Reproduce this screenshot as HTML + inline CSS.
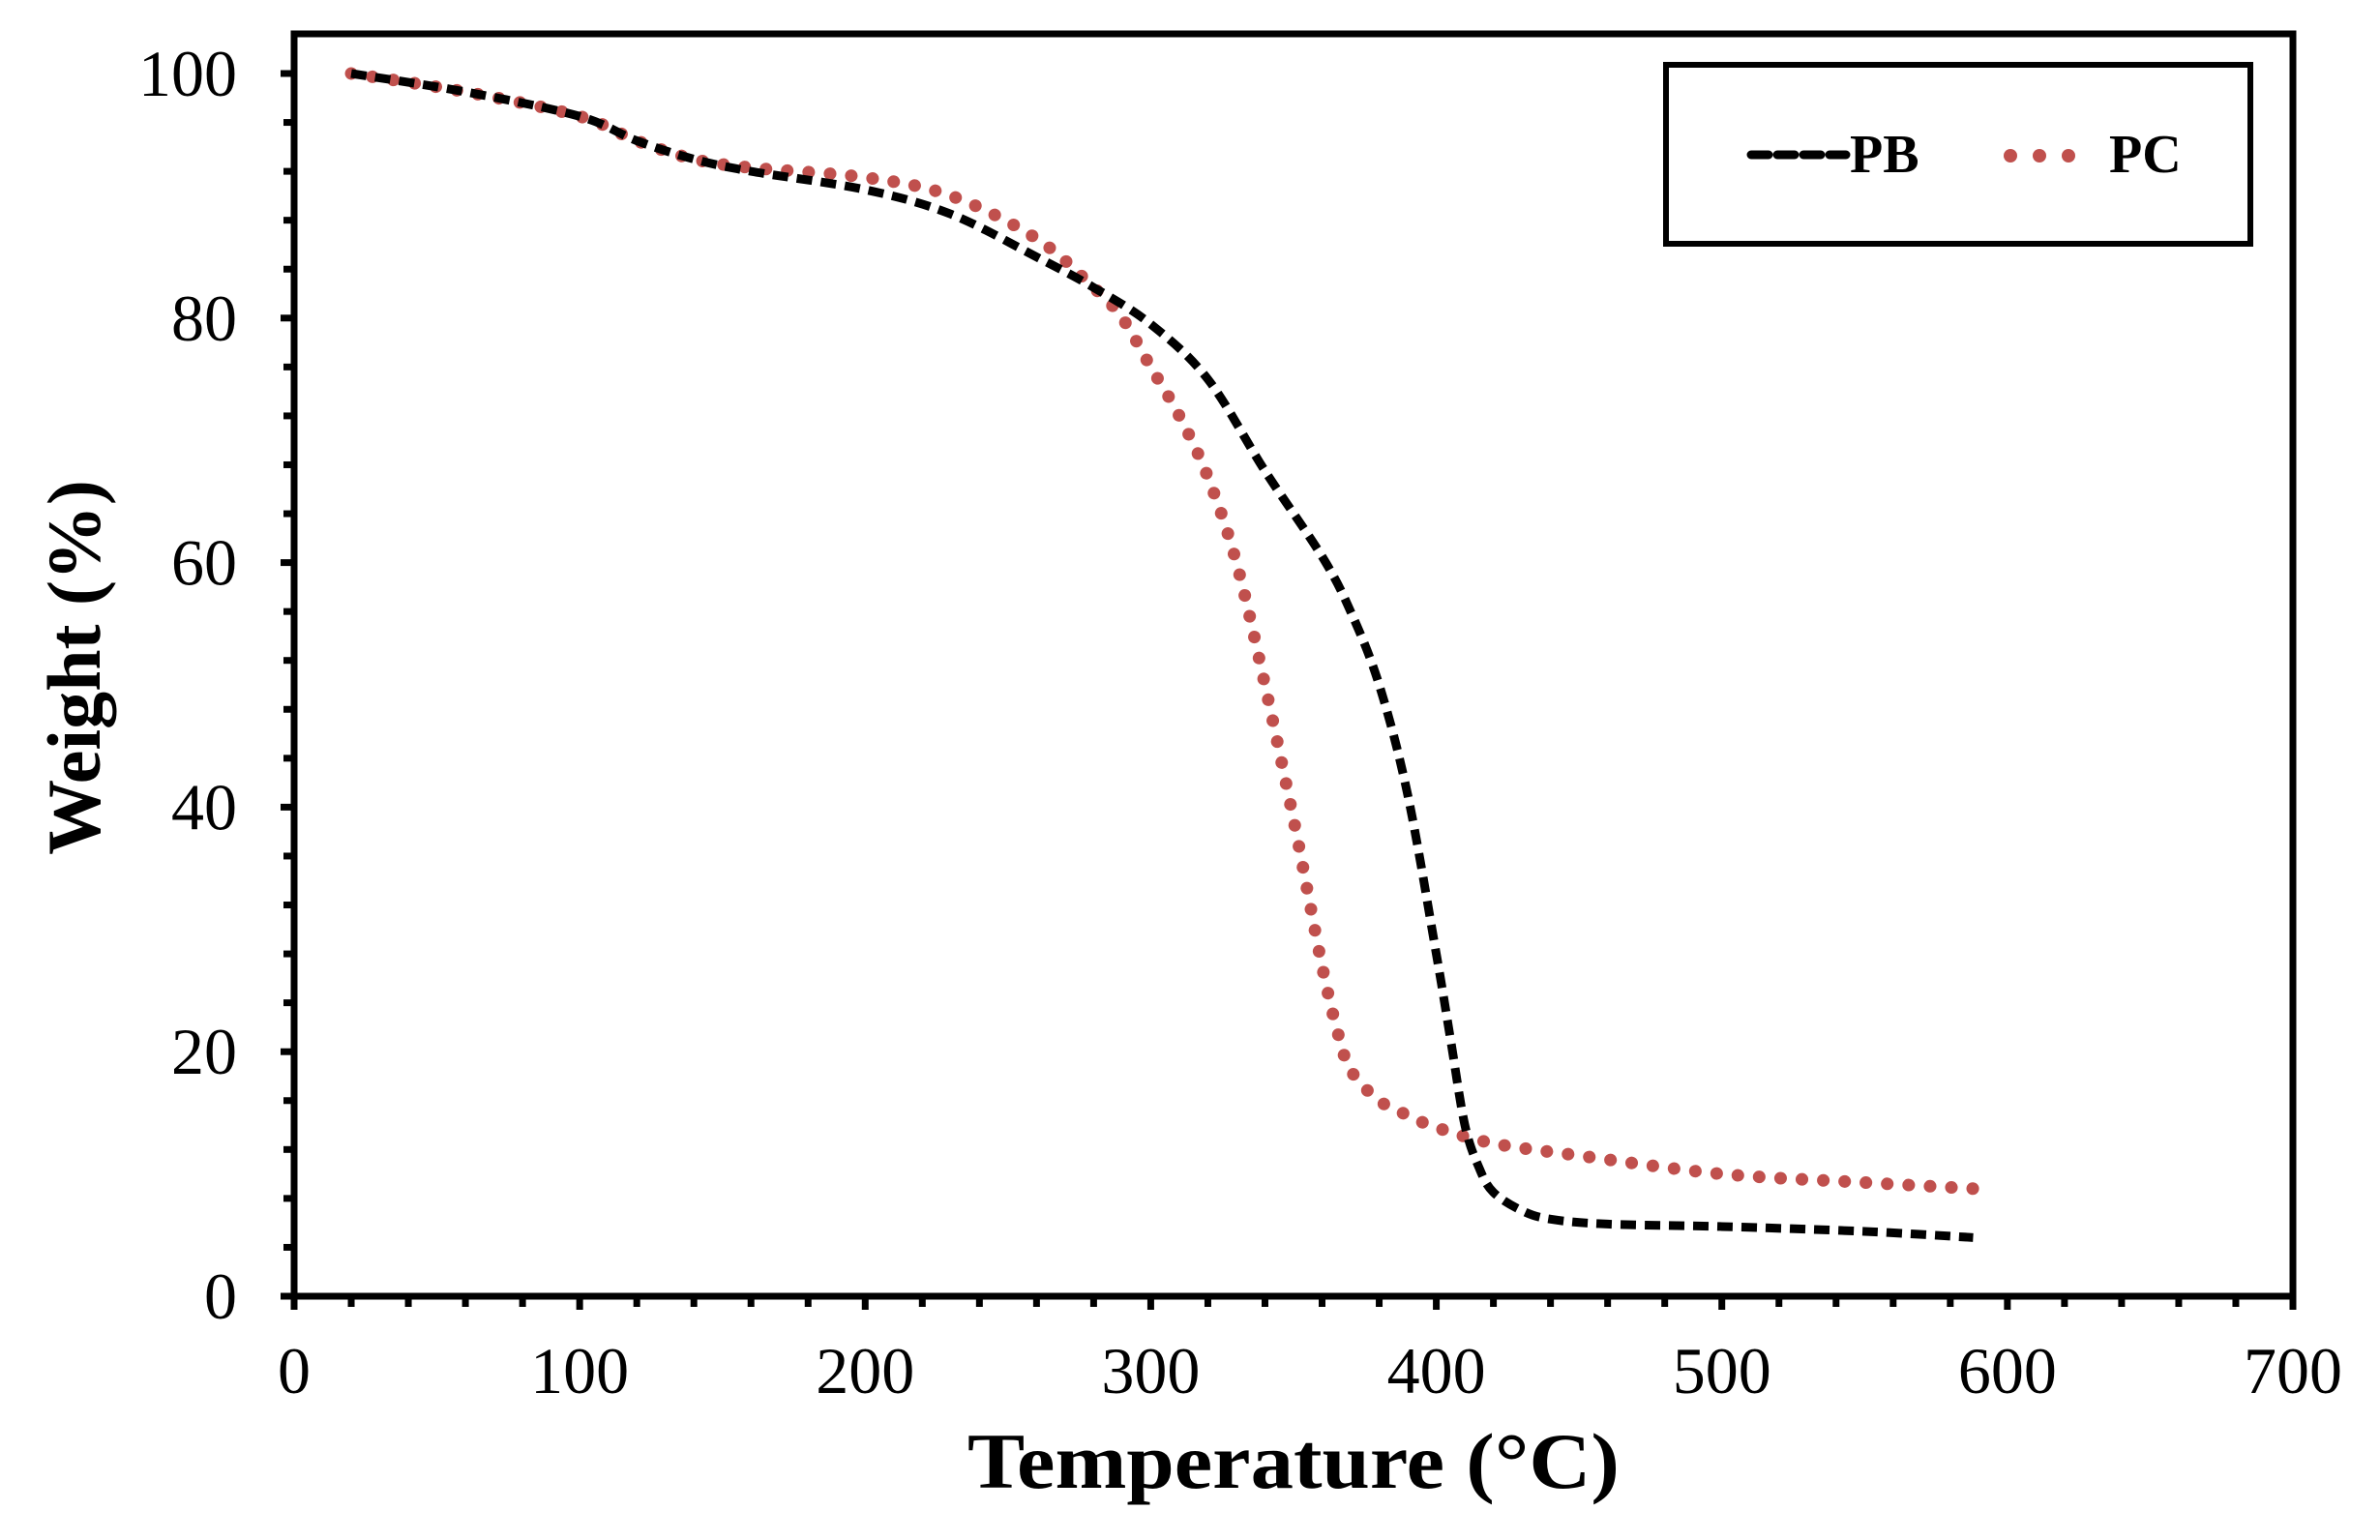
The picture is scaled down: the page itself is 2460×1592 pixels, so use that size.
<!DOCTYPE html>
<html><head><meta charset="utf-8"><style>
html,body{margin:0;padding:0;background:#fff}
svg{display:block}
</style></head><body>
<svg id="chart" width="2460" height="1592" viewBox="0 0 2460 1592" xmlns="http://www.w3.org/2000/svg">
<g id="axes"></g>
<g id="series"></g>
<g id="legend">
<rect x="1722" y="67" width="604" height="185" fill="none" stroke="#000" stroke-width="6"/>
<line x1="1810" y1="160" x2="1908" y2="160" stroke="#000" stroke-width="9" stroke-dasharray="18,9" stroke-linecap="round"/>
<text x="1912" y="178" font-family="Liberation Serif, serif" font-weight="bold" font-size="56">PB</text>
<g fill="#c0504d"><circle cx="2078" cy="161" r="7"/><circle cx="2108" cy="161" r="7"/><circle cx="2138" cy="161" r="7"/></g>
<text x="2180" y="178" font-family="Liberation Serif, serif" font-weight="bold" font-size="56">PC</text>
</g>
</svg>
<script>
const tempsPB = [20,60,100,120,140,160,200,230,260,280,300,320,340,360,370,380,390,400,405,410,415,420,430,440,460,500,550,588];
const weightPB = [100,98.5,96.5,94.5,93,92,90.5,88.5,85,82.5,79.5,75,67.5,60.5,56,50,41,28,21,14,10.5,8.5,7,6.3,5.9,5.7,5.3,4.8];
const tempsPC = [20,60,100,120,140,160,200,230,260,280,290,300,310,320,330,340,350,355,360,365,370,380,390,400,420,450,500,550,588];
const weightPC = [100,98.5,96.5,94.5,93,92.3,91.5,90,86.5,82.5,80,76,72,67,60,50,39,33,27,22,18.5,16,14.8,13.8,12.5,11.5,10,9.3,8.8];
const xTicks = [0,100,200,300,400,500,600,700];
const yTicks = [0,20,40,60,80,100];

const NS="http://www.w3.org/2000/svg";
const L=304,R=2370,T=35,B=1340,Y100=76;
const xs=v=>L+(R-L)*v/700;
const ys=v=>B-(B-Y100)*v/100;
function mk(tag,attrs,parent){const e=document.createElementNS(NS,tag);for(const k in attrs)e.setAttribute(k,attrs[k]);parent.appendChild(e);return e;}
const ax=document.getElementById('axes');
const f=mk('rect',{x:L,y:T,width:R-L,height:B-T,fill:'none',stroke:'#000','stroke-width':7},ax);


for(let v=0;v<=700;v+=20){
  const t=mk('line',{x1:xs(v),x2:xs(v),y1:B,y2:B+(v%100===0?14:11),stroke:'#000','stroke-width':7},ax);
  
  
}
for(let v=0;v<=100;v+=4){
  const t=mk('line',{x1:L-(v%20===0?14:11),x2:L,y1:ys(v),y2:ys(v),stroke:'#000','stroke-width':7},ax);
  
  
}
xTicks.forEach(v=>{
  const t=mk('text',{x:xs(v),y:1440,'text-anchor':'middle','font-family':'Liberation Serif, serif','font-size':68},ax);
  t.textContent=v;
  
  
});
yTicks.forEach(v=>{
  const t=mk('text',{x:245,y:ys(v)+23,'text-anchor':'end','font-family':'Liberation Serif, serif','font-size':68},ax);
  t.textContent=v;
  
  
});
const xt=mk('text',{x:1000,y:1538,'font-family':'Liberation Serif, serif','font-size':82,'font-weight':'bold',textLength:674,lengthAdjust:'spacingAndGlyphs'},ax);
xt.textContent='Temperature (°C)';


const yt=mk('text',{x:0,y:0,'text-anchor':'middle','font-family':'Liberation Serif, serif','font-size':78,'font-weight':'bold',transform:'translate(103,690) rotate(-90)'},ax);
yt.textContent='Weight (%)';



function smooth(xa,ya){
  const p=xa.map((x,i)=>[xs(x),ys(ya[i])]);
  let d=`M${p[0][0]},${p[0][1]}`;
  for(let i=0;i<p.length-1;i++){
    const p0=p[Math.max(i-1,0)],p1=p[i],p2=p[i+1],p3=p[Math.min(i+2,p.length-1)];
    const c1=[p1[0]+(p2[0]-p0[0])/6,p1[1]+(p2[1]-p0[1])/6];
    const c2=[p2[0]-(p3[0]-p1[0])/6,p2[1]-(p3[1]-p1[1])/6];
    d+=`C${c1[0]},${c1[1]} ${c2[0]},${c2[1]} ${p2[0]},${p2[1]}`;
  }
  return d;
}
const sg=document.getElementById('series');
const pc=mk('path',{d:smooth(tempsPC,weightPC),fill:'none',stroke:'#c0504d','stroke-width':13,'stroke-linecap':'round','stroke-dasharray':'0.1,22'},sg);


const pb=mk('path',{d:smooth(tempsPB,weightPB),fill:'none',stroke:'#000','stroke-width':9,'stroke-dasharray':'16,9'},sg);


</script>
</body></html>
